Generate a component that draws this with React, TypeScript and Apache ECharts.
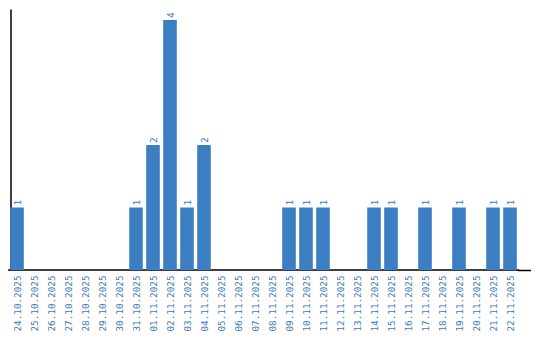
import React, { useEffect, useRef } from "react";
import * as echarts from "echarts";

const categories = [
  "24.10.2025", "25.10.2025", "26.10.2025", "27.10.2025", "28.10.2025", "29.10.2025",
  "30.10.2025", "31.10.2025", "01.11.2025", "02.11.2025", "03.11.2025", "04.11.2025",
  "05.11.2025", "06.11.2025", "07.11.2025", "08.11.2025", "09.11.2025", "10.11.2025",
  "11.11.2025", "12.11.2025", "13.11.2025", "14.11.2025", "15.11.2025", "16.11.2025",
  "17.11.2025", "18.11.2025", "19.11.2025", "20.11.2025", "21.11.2025", "22.11.2025",
];
const values = [
  1, 0, 0, 0, 0, 0,
  0, 1, 2, 4, 1, 2,
  0, 0, 0, 0, 1, 1,
  1, 0, 0, 1, 1, 0,
  1, 0, 1, 0, 1, 1,
];

const BLUE = "#3b7ec2";
const TEXT_BLUE = "#3a7bbf";
const FONT = "DejaVu Sans Mono";

export default function App() {
  const ref = useRef<HTMLDivElement>(null);
  useEffect(() => {
    if (!ref.current) return;
    const chart = echarts.init(ref.current, null, { renderer: "svg" });
    chart.setOption({
      animation: false,
      grid: { left: 8.5, right: 21.5, top: 10, bottom: 70 },
      graphic: [
        {
          type: "line",
          shape: { x1: 518, y1: 270.5, x2: 531, y2: 270.5 },
          style: { stroke: "#000", lineWidth: 1.5 },
        },
      ],
      xAxis: {
        type: "category",
        data: categories,
        axisLine: { lineStyle: { color: "#000", width: 1.5 } },
        axisTick: { show: false },
        axisLabel: {
          rotate: 90,
          interval: 0,
          color: TEXT_BLUE,
          fontFamily: FONT,
          fontSize: 9.3,
          margin: 5.5,
        },
      },
      yAxis: {
        type: "value",
        min: 0,
        max: 4.16,
        offset: -2,
        axisLine: { show: true, lineStyle: { color: "#000", width: 1.5 } },
        axisTick: { show: false },
        axisLabel: { show: false },
        splitLine: { show: false },
      },
      series: [
        {
          type: "bar",
          data: values.map((v) => (v === 0 ? null : v)),
          barCategoryGap: "20%",
          itemStyle: { color: BLUE },
          label: {
            show: true,
            position: "top",
            rotate: 90,
            align: "left",
            verticalAlign: "middle",
            distance: 2,
            color: TEXT_BLUE,
            fontFamily: FONT,
            fontSize: 9.5,
          },
        },
      ],
    });
    return () => chart.dispose();
  }, []);
  return <div ref={ref} style={{ width: 540, height: 340, margin: -8 }} />;
}
